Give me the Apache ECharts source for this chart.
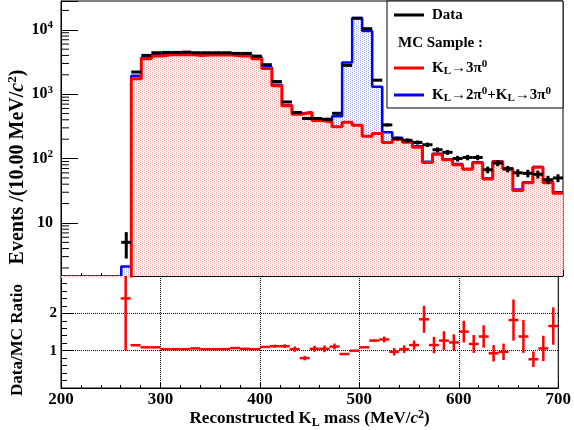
<!DOCTYPE html>
<html>
<head>
<meta charset="utf-8">
<script src="https://cdn.jsdelivr.net/npm/echarts@6/dist/echarts.min.js"></script>
<style>
  html, body { margin: 0; padding: 0; background: #fff; }
  #main { width: 574px; height: 430px; }
</style>
</head>
<body>
<div id="main"></div>
<script>
// bin lower edges (MeV/c^2), 10 MeV bins
var binStart = [200, 210, 220, 230, 240, 250, 260, 270, 280, 290,
  300, 310, 320, 330, 340, 350, 360, 370, 380, 390,
  400, 410, 420, 430, 440, 450, 460, 470, 480, 490,
  500, 510, 520, 530, 540, 550, 560, 570, 580, 590,
  600, 610, 620, 630, 640, 650, 660, 670, 680, 690];
var binWidth = 10;

var dataCounts = [0, 0, 0, 0, 0, 0, 5, 2210, 4000, 4400,
  4450, 4450, 4500, 4400, 4400, 4400, 4400, 4300, 4300, 3900,
  2870, 1570, 757, 520, 420, 420, 408, 505, 2800, 15100,
  10400, 1650, 333, 205, 192, 178, 164, 137, 125, 100,
  104, 104, 67, 85, 69, 60, 59, 57, 47, 50];
var dataErr = [0, 0, 0, 0, 0, 0, 2.2, 47, 63, 66,
  67, 67, 67, 66, 66, 66, 66, 66, 66, 62,
  54, 40, 28, 23, 20, 20, 20, 22, 53, 123,
  102, 41, 18, 14, 14, 13, 13, 12, 11, 10,
  10, 10, 8, 9, 8, 8, 8, 8, 7, 7];

// K_L -> 2pi0 + K_L -> 3pi0 (total MC)
var mcTotal = [0, 0, 0, 0, 0, 0, 2.1, 1930, 3670, 4040,
  4280, 4280, 4330, 4150, 4230, 4230, 4230, 4020, 4100, 3750,
  2610, 1400, 676, 500, 525, 400, 388, 455, 3100, 15300,
  9600, 1300, 256, 211, 185, 155, 89, 119, 98, 82,
  69, 88, 49, 91, 71, 33, 43, 74, 44, 30];

// K_L -> 3pi0
var mc3pi0 = [0, 0, 0, 0, 0, 0, 0, 1740, 3560, 3900,
  4100, 4100, 4150, 4000, 4050, 4050, 4050, 3900, 3950, 3550,
  2500, 1350, 660, 490, 520, 390, 370, 313, 365, 330,
  222, 245, 178, 200, 180, 150, 87, 117, 96, 80,
  68, 86, 48, 89, 69, 32, 42, 73, 42, 29];

var ratio = [null, null, null, null, null, null, 2.4, 1.145, 1.09, 1.09,
  1.04, 1.04, 1.04, 1.06, 1.04, 1.04, 1.04, 1.07, 1.05, 1.04,
  1.10, 1.12, 1.12, 1.04, 0.80, 1.05, 1.05, 1.11, 0.91, 1.0,
  1.09, 1.27, 1.30, 0.97, 1.04, 1.15, 1.84, 1.15, 1.27, 1.22,
  1.51, 1.18, 1.38, 0.93, 0.97, 1.82, 1.38, 0.77, 1.06, 1.66];
var ratioErr = [0, 0, 0, 0, 0, 0, 1.4, 0.02, 0.015, 0.015,
  0.015, 0.015, 0.015, 0.015, 0.015, 0.015, 0.015, 0.015, 0.015, 0.015,
  0.02, 0.04, 0.05, 0.07, 0.06, 0.08, 0.09, 0.08, 0.02, 0.01,
  0.01, 0.03, 0.08, 0.1, 0.1, 0.12, 0.36, 0.22, 0.25, 0.22,
  0.29, 0.24, 0.3, 0.22, 0.22, 0.55, 0.44, 0.21, 0.34, 0.5];

var logMinorTicks = [2, 3, 4, 5, 6, 7, 8, 9, 20, 30, 40, 50, 60, 70, 80, 90,
  200, 300, 400, 500, 600, 700, 800, 900, 2000, 3000, 4000, 5000, 6000, 7000, 8000, 9000, 20000];

var FONT = "'Liberation Serif', 'DejaVu Serif', serif";
var LOG_FLOOR = 0.01; // empty bins drawn below the axis
var RATIO_MAX = 3;

// ROOT-like dotted fill
function makePattern(color) {
  var c = document.createElement('canvas');
  c.width = 4;
  c.height = 4;
  var ctx = c.getContext('2d');
  ctx.fillStyle = '#ffffff';
  ctx.fillRect(0, 0, 4, 4);
  ctx.fillStyle = color;
  ctx.fillRect(0, 0, 1, 1);
  ctx.fillRect(2, 1, 1, 1);
  ctx.fillRect(0, 2, 1, 1);
  ctx.fillRect(2, 3, 1, 1);
  return c;
}

function histPoints(values) {
  var pts = values.map(function (v, i) {
    return [binStart[i], v > 0 ? v : LOG_FLOOR];
  });
  pts.push([binStart[binStart.length - 1] + binWidth, pts[pts.length - 1][1]]);
  return pts;
}

function errItems(values, errs) {
  var items = [];
  values.forEach(function (v, i) {
    if (v === null || v <= 0) return;
    items.push([binStart[i], binStart[i] + binWidth, v, errs[i]]);
  });
  return items;
}

function errRender(color, width, yMax) {
  return function (params, api) {
    var x0 = api.value(0), x1 = api.value(1), y = api.value(2), e = api.value(3);
    var xm = (x0 + x1) / 2;
    var pL = api.coord([x0, y]);
    var pR = api.coord([x1, y]);
    var pT = api.coord([xm, Math.min(y + e, yMax)]);
    var pB = api.coord([xm, y - e]);
    var st = { stroke: color, lineWidth: width };
    return {
      type: 'group',
      children: [
        { type: 'line', shape: { x1: pL[0], y1: pL[1], x2: pR[0], y2: pR[1] }, style: st },
        { type: 'line', shape: { x1: pT[0], y1: pT[1], x2: pB[0], y2: pB[1] }, style: st }
      ]
    };
  };
}

var textRich = {
  b: { fontFamily: FONT, fontWeight: 'bold', fontSize: 17, color: '#000', lineHeight: 20 },
  i: { fontFamily: FONT, fontWeight: 'bold', fontStyle: 'italic', fontSize: 17, color: '#000', lineHeight: 20 },
  sub: { fontFamily: FONT, fontWeight: 'bold', fontSize: 12, color: '#000', lineHeight: 12, verticalAlign: 'bottom' },
  sup: { fontFamily: FONT, fontWeight: 'bold', fontSize: 12, color: '#000', lineHeight: 12, verticalAlign: 'top' }
};

var chart = echarts.init(document.getElementById('main'), null, { renderer: 'canvas' });

var option = {
  animation: false,
  backgroundColor: '#fff',
  grid: [
    { left: 61, right: 11, top: 1, height: 275, show: true, borderColor: '#000', borderWidth: 1, backgroundColor: 'transparent' },
    { left: 61, right: 11, top: 276, height: 112, show: true, borderColor: '#000', borderWidth: 1, backgroundColor: 'transparent' }
  ],
  xAxis: [{
    gridIndex: 0,
    type: 'value',
    min: 200,
    max: 700,
    interval: 100,
    axisLine: { lineStyle: { color: '#000', width: 1 } },
    axisTick: { inside: true, length: 6, lineStyle: { color: '#000' } },
    minorTick: { show: true, splitNumber: 5, length: 3, lineStyle: { color: '#000' } },
    axisLabel: { show: false },
    splitLine: { show: false }
  }, {
    gridIndex: 1,
    type: 'value',
    min: 200,
    max: 700,
    interval: 100,
    axisLine: { lineStyle: { color: '#000', width: 1 } },
    axisTick: { inside: true, length: 6, lineStyle: { color: '#000' } },
    minorTick: { show: true, splitNumber: 5, length: 3, lineStyle: { color: '#000' } },
    axisLabel: { margin: 3, fontFamily: FONT, fontWeight: 'bold', fontSize: 17, color: '#000' },
    splitLine: { show: true, lineStyle: { type: 'dotted', color: '#000', width: 1 } },
    name: '{b|Reconstructed K}{sub|L}{b| mass (MeV/}{i|c}{sup|2}{b|)}',
    nameLocation: 'middle',
    nameGap: 19,
    nameTextStyle: { rich: textRich }
  }],
  yAxis: [{
    gridIndex: 0,
    type: 'log',
    logBase: 10,
    min: 1.5,
    max: 28000,
    axisLine: { show: true, lineStyle: { color: '#000', width: 1 } },
    axisTick: { inside: true, length: 17, lineStyle: { color: '#000' } },
    axisLabel: {
      margin: 8,
      formatter: function (v) {
        var e = Math.round(Math.log10(v));
        if (Math.abs(v - Math.pow(10, e)) > 1e-3 * v) return '';
        if (e === 1) return '{b|10}';
        return '{b|10}{s|' + e + '}';
      },
      rich: {
        b: { fontFamily: FONT, fontWeight: 'bold', fontSize: 16, color: '#000', lineHeight: 20 },
        s: { fontFamily: FONT, fontWeight: 'bold', fontSize: 11, color: '#000', lineHeight: 12, verticalAlign: 'top' }
      }
    },
    splitLine: { show: false }
  }, {
    gridIndex: 1,
    type: 'value',
    min: 0,
    max: RATIO_MAX,
    interval: 1,
    axisLine: { show: true, lineStyle: { color: '#000', width: 1 } },
    axisTick: { inside: true, length: 12, lineStyle: { color: '#000' } },
    minorTick: { show: true, splitNumber: 5, length: 6, lineStyle: { color: '#000' } },
    axisLabel: {
      margin: 4,
      fontFamily: FONT, fontWeight: 'bold', fontSize: 15, color: '#000',
      formatter: function (v) { return (v === 1 || v === 2) ? String(v) : ''; }
    },
    splitLine: { show: true, lineStyle: { type: 'dotted', color: '#000', width: 1 } }
  }],
  series: [{
    name: 'KL->2pi0+KL->3pi0',
    type: 'line',
    xAxisIndex: 0,
    yAxisIndex: 0,
    step: 'end',
    symbol: 'none',
    clip: true,
    z: 2,
    data: histPoints(mcTotal),
    lineStyle: { color: '#0000ff', width: 2.5 },
    areaStyle: { color: { image: makePattern('#a0a8ff'), repeat: 'repeat' }, origin: 'start', opacity: 1 }
  }, {
    name: 'KL->3pi0',
    type: 'line',
    xAxisIndex: 0,
    yAxisIndex: 0,
    step: 'end',
    symbol: 'none',
    clip: true,
    z: 3,
    data: histPoints(mc3pi0),
    lineStyle: { color: '#ff0000', width: 3 },
    areaStyle: { color: { image: makePattern('#ffa0a0'), repeat: 'repeat' }, origin: 'start', opacity: 1 }
  }, {
    name: 'Data',
    type: 'custom',
    xAxisIndex: 0,
    yAxisIndex: 0,
    z: 5,
    data: errItems(dataCounts, dataErr),
    renderItem: errRender('#000', 3, 1e9)
  }, {
    // log minor ticks on the left axis
    type: 'custom',
    xAxisIndex: 0,
    yAxisIndex: 0,
    z: 6,
    silent: true,
    data: logMinorTicks.map(function (v) { return [200, v]; }),
    renderItem: function (params, api) {
      var p = api.coord([api.value(0), api.value(1)]);
      return { type: 'line', shape: { x1: p[0], y1: p[1], x2: p[0] + 8, y2: p[1] }, style: { stroke: '#000', lineWidth: 1 } };
    }
  }, {
    name: 'Data/MC',
    type: 'custom',
    xAxisIndex: 1,
    yAxisIndex: 1,
    z: 5,
    data: errItems(ratio, ratioErr),
    renderItem: errRender('#ff0000', 2.5, RATIO_MAX)
  }],
  graphic: [
    // y titles
    {
      type: 'text', x: 18, y: 167, rotation: Math.PI / 2,
      style: {
        text: '{b|Events /(10.00 MeV/}{i|c}{sup|2}{b|)}',
        align: 'center', verticalAlign: 'middle',
        rich: {
          b: { fontFamily: FONT, fontWeight: 'bold', fontSize: 20, color: '#000', lineHeight: 24 },
          i: { fontFamily: FONT, fontWeight: 'bold', fontStyle: 'italic', fontSize: 20, color: '#000', lineHeight: 24 },
          sup: { fontFamily: FONT, fontWeight: 'bold', fontSize: 13, color: '#000', lineHeight: 14, verticalAlign: 'top' }
        }
      }
    },
    {
      type: 'text', x: 18, y: 340, rotation: Math.PI / 2,
      style: {
        text: 'Data/MC Ratio',
        align: 'center', verticalAlign: 'middle',
        fontFamily: FONT, fontWeight: 'bold', fontSize: 17, fill: '#000'
      }
    },
    // legend box
    {
      type: 'rect', shape: { x: 387, y: 1, width: 176, height: 107 },
      style: { fill: '#fff', stroke: '#000', lineWidth: 1 }, z: 20
    },
    { type: 'line', shape: { x1: 394, y1: 15, x2: 424, y2: 15 }, style: { stroke: '#000', lineWidth: 3 }, z: 21 },
    {
      type: 'text', x: 432, y: 15, z: 21,
      style: { text: 'Data', verticalAlign: 'middle', fontFamily: FONT, fontWeight: 'bold', fontSize: 15, fill: '#000' }
    },
    {
      type: 'text', x: 398, y: 43, z: 21,
      style: { text: 'MC Sample :', verticalAlign: 'middle', fontFamily: FONT, fontWeight: 'bold', fontSize: 15, fill: '#000' }
    },
    { type: 'line', shape: { x1: 394, y1: 68, x2: 424, y2: 68 }, style: { stroke: '#ff0000', lineWidth: 3 }, z: 21 },
    {
      type: 'text', x: 432, y: 68, z: 21,
      style: {
        text: '{b|K}{sub|L}{b|→3π}{sup|0}',
        verticalAlign: 'middle',
        rich: {
          b: { fontFamily: FONT, fontWeight: 'bold', fontSize: 15, color: '#000', lineHeight: 18 },
          sub: { fontFamily: FONT, fontWeight: 'bold', fontSize: 11, color: '#000', lineHeight: 11, verticalAlign: 'bottom' },
          sup: { fontFamily: FONT, fontWeight: 'bold', fontSize: 11, color: '#000', lineHeight: 11, verticalAlign: 'top' }
        }
      }
    },
    { type: 'line', shape: { x1: 394, y1: 95, x2: 424, y2: 95 }, style: { stroke: '#0000ff', lineWidth: 3 }, z: 21 },
    {
      type: 'text', x: 432, y: 95, z: 21,
      style: {
        text: '{b|K}{sub|L}{b|→2π}{sup|0}{b|+K}{sub|L}{b|→3π}{sup|0}',
        verticalAlign: 'middle',
        rich: {
          b: { fontFamily: FONT, fontWeight: 'bold', fontSize: 15, color: '#000', lineHeight: 18 },
          sub: { fontFamily: FONT, fontWeight: 'bold', fontSize: 11, color: '#000', lineHeight: 11, verticalAlign: 'bottom' },
          sup: { fontFamily: FONT, fontWeight: 'bold', fontSize: 11, color: '#000', lineHeight: 11, verticalAlign: 'top' }
        }
      }
    }
  ]
};

chart.setOption(option);
</script>
</body>
</html>
